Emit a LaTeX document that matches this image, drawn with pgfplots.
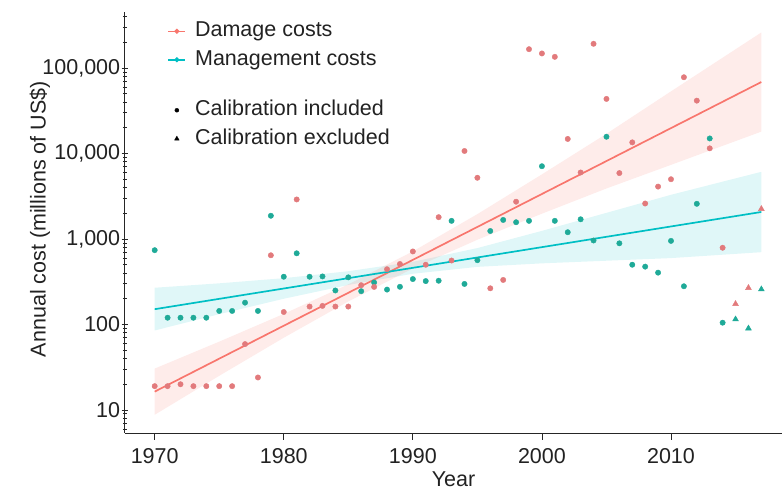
\documentclass[border=0pt]{standalone}
\usepackage{fontspec}
\setmainfont{Liberation Sans}
\usepackage{pgfplots}
\pgfplotsset{compat=1.18}
\definecolor{dmg}{HTML}{F8766D}
\definecolor{mgm}{HTML}{00BFC4}
\definecolor{dmgpt}{HTML}{E27A7C}
\definecolor{mgmpt}{HTML}{1FAA98}
\definecolor{txt}{HTML}{222222}
\begin{document}
\fontsize{21.5bp}{26bp}\selectfont
\begin{tikzpicture}
\begin{axis}[
  at={(0,0)}, anchor=south west,
  scale only axis, width=657bp, height=421bp,
  xmin=1967.7, xmax=2018.6,
  ymode=log, ymin=5.38, ymax=452000,
  axis x line=bottom, axis y line=left,
  axis line style={-, line width=1bp, black!85},
  xtick={1970,1980,1990,2000,2010},
  xticklabels={1970,1980,1990,2000,2010},
  ytick={10,100,1000,10000,100000},
  yticklabels={10,100,{1,000},{10,000},{100,000}},
  minor ytick={6,7,8,9,20,30,40,50,60,70,80,90,200,300,400,500,600,700,800,900,2000,3000,4000,5000,6000,7000,8000,9000,20000,30000,40000,50000,60000,70000,80000,90000,200000,300000,400000},
  tick style={black!85, line width=0.8bp},
  major tick length=7bp, minor tick length=4bp,
  xtick align=outside, ytick align=center,
  /pgf/number format/assume math mode=true,
  tick label style={text=txt},
  xticklabel style={yshift=-1bp},
  yticklabel style={xshift=6bp},
  xlabel={Year},
  ylabel={Annual cost (millions of US\$)},
  xlabel style={at={(axis description cs:0.5,0)}, anchor=base, yshift=-53.5bp, inner sep=0pt, text=txt},
  ylabel style={at={(axis description cs:-0.1294,0.508)}, anchor=center, text=txt},
  legend cell align=left,
  legend style={at={(axis description cs:0.06,0.985)}, anchor=north west, draw=none, fill=none,
    text=txt, nodes={inner sep=1bp, text height=15bp, text depth=4.5bp}, row sep=7bp,
    /tikz/every odd column/.append style={column sep=8bp}},
]
\addlegendimage{dmg, line width=1.5bp, mark=*, mark size=1.6bp}
\addlegendentry{Damage costs}
\addlegendimage{mgm, line width=1.5bp, mark=*, mark size=1.6bp}
\addlegendentry{Management costs}
\addlegendimage{empty legend}
\addlegendentry[text height=13bp,text depth=0bp]{}
\addlegendimage{only marks, mark=*, black, mark size=2bp}
\addlegendentry{Calibration included}
\addlegendimage{only marks, mark=triangle*, black, mark size=2.6bp}
\addlegendentry{Calibration excluded}

% confidence bands
\addplot[draw=none, fill=mgm, fill opacity=0.12, forget plot] coordinates {
(1970,269) (1975,303) (1980,348) (1985,420) (1990,541) (1995,783) (2000,1245) (2005,2023) (2010,3289) (2017,6109)
(2017,701) (2010,598) (2005,557) (2000,519) (1995,472) (1990,392) (1985,290) (1980,200) (1975,132) (1970,85.1)} -- cycle;
\addplot[draw=none, fill=dmg, fill opacity=0.14, forget plot] coordinates {
(1970,30.5) (1975,63) (1980,133) (1985,295) (1990,716) (1995,1954) (2000,5702) (2005,17020) (2010,53330) (2017,260600)
(2017,18030) (2010,7362) (2005,3899) (2000,1977) (1995,980) (1990,452) (1985,186) (1980,70.0) (1975,25.1) (1970,8.79)} -- cycle;

% fitted lines
\addplot[dmg, line width=1.7bp, forget plot] coordinates {(1970,16.4) (2017,68600)};
\addplot[mgm, line width=1.7bp, forget plot] coordinates {(1970,151) (2017,2070)};

% management costs, calibration included
\addplot[only marks, mark=*, mark size=2.7bp, color=mgmpt, forget plot] coordinates {
(1970,740) (1971,120) (1972,120) (1973,120) (1974,120) (1975,144) (1976,144) (1977,180) (1978,144) (1979,1870)
(1980,362) (1981,680) (1982,362) (1983,365) (1984,250) (1985,356) (1986,245) (1987,310) (1988,256) (1989,276)
(1990,340) (1991,322) (1992,325) (1993,1630) (1994,298) (1995,565) (1996,1240) (1997,1670) (1998,1570) (1999,1630)
(2000,7100) (2001,1630) (2002,1200) (2003,1700) (2004,960) (2005,15700) (2006,890) (2007,500) (2008,475) (2009,404)
(2010,950) (2011,280) (2012,2580) (2013,15000) (2014,105)};
% damage costs, calibration included
\addplot[only marks, mark=*, mark size=2.7bp, color=dmgpt, forget plot] coordinates {
(1970,19) (1971,19) (1972,20) (1973,19) (1974,19) (1975,19) (1976,19) (1977,59) (1978,24) (1979,645)
(1980,140) (1981,2900) (1982,162) (1983,165) (1984,162) (1985,162) (1986,288) (1987,275) (1988,443) (1989,510)
(1990,715) (1991,500) (1992,1800) (1993,560) (1994,10700) (1995,5200) (1996,265) (1997,332) (1998,2730) (1999,166000)
(2000,148000) (2001,135000) (2002,14800) (2003,6000) (2004,192000) (2005,43500) (2006,5900) (2007,13500) (2008,2600) (2009,4100)
(2010,5000) (2011,78000) (2012,41500) (2013,11500) (2014,790)};
% calibration excluded
\addplot[only marks, mark=triangle*, mark size=3.4bp, color=mgmpt, forget plot] coordinates {
(2015,115) (2016,90) (2017,258)};
\addplot[only marks, mark=triangle*, mark size=3.4bp, color=dmgpt, forget plot] coordinates {
(2015,174) (2016,268) (2017,2250)};
\end{axis}
\pgfresetboundingbox
\path[use as bounding box] (-125bp,-59bp) rectangle (657bp,433bp);
\end{tikzpicture}
\end{document}
